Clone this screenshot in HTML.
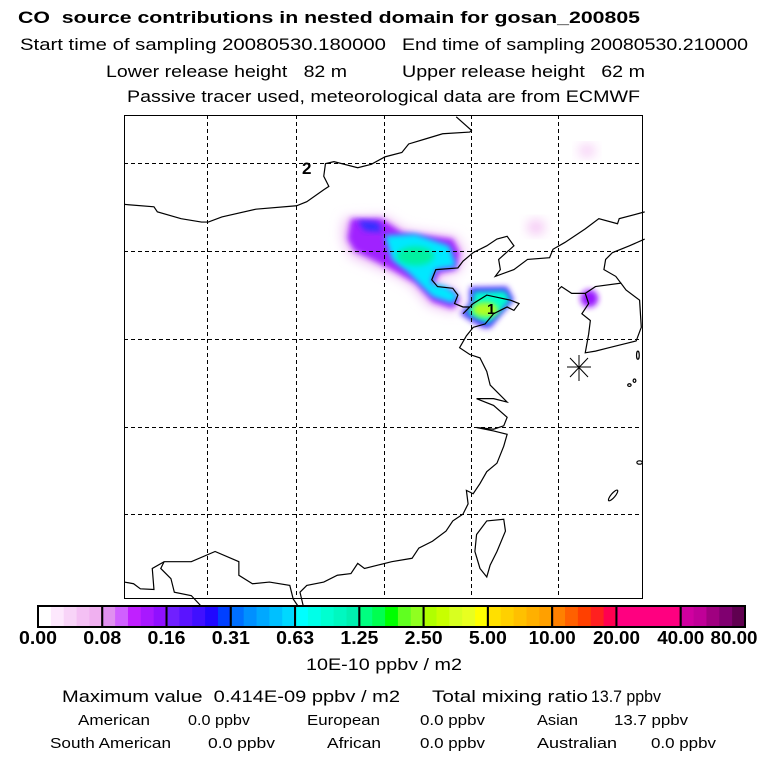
<!DOCTYPE html>
<html><head><meta charset="utf-8"><style>
body{margin:0;background:#fff;width:768px;height:768px;overflow:hidden;font-family:"Liberation Sans",sans-serif;}
svg{position:absolute;left:0;top:0}
text{font-family:"Liberation Sans",sans-serif;fill:#000;white-space:pre}
</style></head><body>
<svg width="768" height="768">
<defs><filter id="bl" x="-50%" y="-50%" width="200%" height="200%"><feGaussianBlur stdDeviation="18"/></filter>
<filter id="bl2" x="-30%" y="-30%" width="160%" height="160%"><feGaussianBlur stdDeviation="9"/></filter></defs>
<g>
<text x="18" y="23" font-size="17" font-weight="bold" textLength="622" lengthAdjust="spacingAndGlyphs">CO  source contributions in nested domain for gosan_200805</text>
<text x="20" y="50" font-size="17" textLength="366" lengthAdjust="spacingAndGlyphs">Start time of sampling 20080530.180000</text>
<text x="402" y="50" font-size="17" textLength="346" lengthAdjust="spacingAndGlyphs">End time of sampling 20080530.210000</text>
<text x="106" y="77" font-size="17" textLength="241" lengthAdjust="spacingAndGlyphs">Lower release height   82 m</text>
<text x="402" y="77" font-size="17" textLength="243" lengthAdjust="spacingAndGlyphs">Upper release height   62 m</text>
<text x="127" y="102" font-size="17" textLength="513" lengthAdjust="spacingAndGlyphs">Passive tracer used, meteorological data are from ECMWF</text>
</g>
<g transform="translate(120,110) scale(0.3396)">
<g>
<polygon filter="url(#bl)" fill="#ecb8f4" points="660,320 780,315 840,355 990,375 1015,420 1000,475 945,485 930,515 985,525 1005,560 985,595 910,575 860,515 800,480 680,430 655,380"/>
<polygon filter="url(#bl2)" fill="#a020ff" points="680,320 770,320 830,360 980,380 1000,420 990,470 940,480 920,520 980,530 1000,560 980,585 920,565 870,510 800,470 690,415 670,380"/>
<polygon filter="url(#bl2)" fill="#3030ff" points="700,325 760,330 770,360 720,355"/>
<polygon filter="url(#bl2)" fill="#00e8ff" points="780,370 870,365 970,400 990,460 930,470 915,510 960,520 995,545 980,570 920,550 850,480 800,440"/>
<ellipse filter="url(#bl2)" cx="870" cy="430" rx="55" ry="28" fill="#00f0a0"/>
<polygon filter="url(#bl2)" fill="#5020ff" points="1030,522 1140,520 1160,560 1120,605 1090,642 1070,642 1035,622 1002,600 1030,570"/>
<polygon filter="url(#bl2)" fill="#00ffd0" points="1040,535 1135,532 1150,560 1115,600 1085,630 1050,615 1020,598 1040,570"/>
<ellipse filter="url(#bl2)" cx="1075" cy="588" rx="38" ry="22" fill="#b0ff20"/>
<circle filter="url(#bl2)" cx="1382" cy="555" r="26" fill="#9818ff"/>
<ellipse filter="url(#bl)" cx="1375" cy="120" rx="22" ry="14" fill="#f0b0f0"/>
<ellipse filter="url(#bl)" cx="1225" cy="345" rx="24" ry="18" fill="#f0b0f0"/>
</g>
<g fill="none" stroke="#000" stroke-width="1.2" vector-effect="non-scaling-stroke">
<polyline vector-effect="non-scaling-stroke" points="13,278 100,285 110,300 180,320 240,330 260,330 300,315 400,292 520,282 550,270 600,235 615,225 600,195 605,158 630,152 700,170 740,160 780,138 830,125 850,100 900,85 950,70 1030,65 1035,60 990,20"/>
<polyline vector-effect="non-scaling-stroke" points="1545,300 1470,320 1465,335 1410,320 1370,350 1310,390 1275,410 1265,435 1200,440 1160,470 1105,490 1120,470 1115,440 1160,400 1140,372 1110,380 1080,400 1040,420 1010,445 995,465 930,470 918,500 935,520 980,525 995,545 985,570 1010,580 1030,580 1010,600 1040,570 1080,545 1150,560 1175,570 1160,590 1140,580 1100,600 1075,630 1040,640 1020,665 1000,700 1030,720 1060,730 1080,770 1090,810 1140,860 1100,850 1050,850 1100,870 1140,905 1130,930 1100,940 1050,935 1100,945 1140,955 1130,990 1110,1040 1080,1065 1060,1100 1040,1130 1020,1120 1025,1160 1010,1190 980,1210 960,1240 920,1270 880,1290 860,1320 800,1330 760,1340 720,1350 700,1335 680,1365 640,1370 600,1390 550,1400 530,1420 540,1462"/>
<polyline vector-effect="non-scaling-stroke" points="13,1390 40,1395 60,1410 100,1412 95,1350 130,1330 165,1330 210,1330 280,1300 350,1330 350,1370 390,1395 440,1390 500,1400 510,1440 525,1462"/>
<polyline vector-effect="non-scaling-stroke" points="130,1330 120,1350 150,1380 160,1420 210,1430 240,1462"/>
<polyline vector-effect="non-scaling-stroke" points="1290,530 1300,520 1330,540 1370,540 1400,520 1475,510 1490,530 1530,560 1535,640 1520,680 1480,690 1440,700 1400,710 1370,715 1380,660 1385,620 1360,600 1380,570 1370,540"/>
<polyline vector-effect="non-scaling-stroke" points="1545,380 1500,400 1450,420 1430,440 1425,470 1460,490 1475,510"/>
<polygon vector-effect="non-scaling-stroke" points="1080,1210 1130,1205 1135,1240 1110,1300 1090,1340 1080,1375 1060,1350 1045,1300 1050,1250"/>
<ellipse vector-effect="non-scaling-stroke" cx="1525" cy="722" rx="4" ry="12"/>
<ellipse vector-effect="non-scaling-stroke" cx="1500" cy="810" rx="5" ry="4"/>
<ellipse vector-effect="non-scaling-stroke" cx="1515" cy="797" rx="4" ry="5"/>
<ellipse vector-effect="non-scaling-stroke" cx="1530" cy="1038" rx="8" ry="5"/>
<ellipse vector-effect="non-scaling-stroke" cx="1452" cy="1135" rx="6" ry="20" transform="rotate(40 1452 1135)"/>
</g>
</g>
<g stroke="#000" stroke-width="1" stroke-dasharray="4,3">
<line x1="207.5" y1="115" x2="207.5" y2="598"/><line x1="296.5" y1="115" x2="296.5" y2="598"/><line x1="384.5" y1="115" x2="384.5" y2="598"/><line x1="471.5" y1="115" x2="471.5" y2="598"/><line x1="558.5" y1="115" x2="558.5" y2="598"/>
<line x1="124" y1="163.5" x2="642" y2="163.5"/><line x1="124" y1="251.5" x2="642" y2="251.5"/><line x1="124" y1="339.5" x2="642" y2="339.5"/><line x1="124" y1="427.5" x2="642" y2="427.5"/><line x1="124" y1="514.5" x2="642" y2="514.5"/>
</g>
<rect x="124.5" y="115.5" width="518" height="483" fill="none" stroke="#000"/>
<text x="302" y="174" font-size="17" font-weight="bold">2</text>
<text x="487" y="314" font-size="15" font-weight="bold">1</text>
<g stroke="#000">
<line x1="567" y1="367" x2="591" y2="367"/><line x1="579" y1="355" x2="579" y2="381"/><line x1="570" y1="358" x2="588" y2="377"/><line x1="588" y1="358" x2="570" y2="377"/>
</g>
<g id="cbar"></g>
<text x="384" y="670" font-size="17" text-anchor="middle" textLength="156" lengthAdjust="spacingAndGlyphs">10E-10 ppbv / m2</text>
<g font-size="17">
<text x="62" y="702" textLength="338" lengthAdjust="spacingAndGlyphs">Maximum value  0.414E-09 ppbv / m2</text>
<text x="432" y="702" textLength="156" lengthAdjust="spacingAndGlyphs">Total mixing ratio</text>
<text x="591" y="702" textLength="70" lengthAdjust="spacingAndGlyphs">13.7 ppbv</text>
</g>
<g font-size="15">
<text x="78" y="725" textLength="72" lengthAdjust="spacingAndGlyphs">American</text><text x="188" y="725" textLength="62" lengthAdjust="spacingAndGlyphs">0.0 ppbv</text>
<text x="307" y="725" textLength="73" lengthAdjust="spacingAndGlyphs">European</text><text x="420" y="725" textLength="65" lengthAdjust="spacingAndGlyphs">0.0 ppbv</text>
<text x="537" y="725" textLength="41" lengthAdjust="spacingAndGlyphs">Asian</text><text x="614" y="725" textLength="74" lengthAdjust="spacingAndGlyphs">13.7 ppbv</text>
<text x="50" y="748" textLength="121" lengthAdjust="spacingAndGlyphs">South American</text><text x="208" y="748" textLength="67" lengthAdjust="spacingAndGlyphs">0.0 ppbv</text>
<text x="327" y="748" textLength="54" lengthAdjust="spacingAndGlyphs">African</text><text x="420" y="748" textLength="65" lengthAdjust="spacingAndGlyphs">0.0 ppbv</text>
<text x="537" y="748" textLength="80" lengthAdjust="spacingAndGlyphs">Australian</text><text x="651" y="748" textLength="65" lengthAdjust="spacingAndGlyphs">0.0 ppbv</text>
</g>
</svg>
<script>
const tickLabels=["0.00","0.08","0.16","0.31","0.63","1.25","2.50","5.00","10.00","20.00","40.00","80.00"];
const segColors=[
["#ffffff","#fde8fd","#f8d4f8","#f4c0f4","#f0b0f0"],
["#e090f0","#d060ff","#c020ff","#a818ff","#9010ff"],
["#7020ff","#5a14ff","#4010ff","#2008ff","#0040ff"],
["#0070ff","#0090ff","#00a8ff","#00c0ff","#00d8ff"],
["#00ffff","#00ffe8","#00ffd0","#00f8c0","#00f0b0"],
["#00ff80","#00ff50","#00ff00","#60ff20","#90ff20"],
["#b0ff00","#c8ff00","#d8ff20","#e8ff20","#ffff00"],
["#ffe000","#ffd000","#ffc000","#ffb000","#ffa000"],
["#ff8000","#ff6000","#ff4000","#ff2020","#ff0050"],
["#ff0080","#ff0080","#ff0080","#ff0080","#ff0080"],
["#d000a0","#c00098","#a00080","#800070","#600050"]];
const g=document.getElementById('cbar');
const NS="http://www.w3.org/2000/svg";
const x0=38,x1=745,y0=606,h=21,n=segColors.length,w=(x1-x0)/n;
segColors.forEach((cs,i)=>{cs.forEach((c,j)=>{const r=document.createElementNS(NS,'rect');
r.setAttribute('x',x0+i*w+j*w/cs.length);r.setAttribute('y',y0);r.setAttribute('width',w/cs.length+0.6);r.setAttribute('height',h);r.setAttribute('fill',c);


g.appendChild(r);});
const b=document.createElementNS(NS,'rect');b.setAttribute('x',x0+i*w);b.setAttribute('y',y0);b.setAttribute('width',w);b.setAttribute('height',h);b.setAttribute('fill','none');b.setAttribute('stroke','#000');b.setAttribute('stroke-width','2');


g.appendChild(b);});
tickLabels.forEach((t,i)=>{const e=document.createElementNS(NS,'text');e.setAttribute('x',Math.min(Math.max(x0+i*w,24),734));e.setAttribute('y',644);e.setAttribute('font-size','18');e.setAttribute('font-weight','bold');e.setAttribute('text-anchor','middle');
e.setAttribute('textLength',t.length>4?47:38);e.setAttribute('lengthAdjust','spacingAndGlyphs');e.textContent=t;


g.appendChild(e);});
</script>
</body></html>
